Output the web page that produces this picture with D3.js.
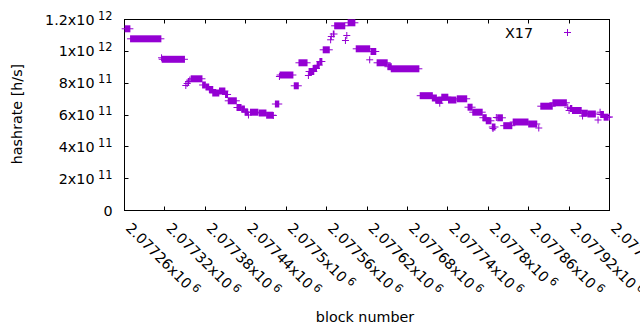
<!DOCTYPE html>
<html>
<head>
<meta charset="utf-8">
<script src="https://cdn.jsdelivr.net/npm/d3@7"></script>
<style>
  body { margin: 0; background: #fff; }
  svg { display: block; }
  text { font-family: "DejaVu Sans", sans-serif; fill: #000; }
</style>
</head>
<body>
<svg id="chart" width="640" height="330"></svg>
<script>
// runs of consecutive blocks that share one hashrate value (X17 series)
const runStart = [2077261, 2077269, 2077315, 2077316, 2077351, 2077353, 2077355, 2077357, 2077359, 2077376,
  2077381, 2077386, 2077391, 2077401, 2077410, 2077414, 2077427, 2077434, 2077439, 2077444,
  2077447, 2077460, 2077471, 2077481, 2077484, 2077490, 2077491, 2077512, 2077519, 2077533,
  2077534, 2077540, 2077546, 2077550, 2077555, 2077566, 2077567, 2077570, 2077572, 2077588,
  2077590, 2077592, 2077604, 2077624, 2077626, 2077635, 2077651, 2077656, 2077699, 2077717,
  2077722, 2077728, 2077731, 2077741, 2077754, 2077770, 2077777, 2077792, 2077797, 2077807,
  2077806, 2077812, 2077814, 2077823, 2077837, 2077860, 2077875, 2077878, 2077896, 2077918,
  2077920, 2077922, 2077925, 2077939, 2077940, 2077948, 2077963, 2077966, 2077967, 2077972,
  2077980];
const runEnd = [2077268, 2077314, 2077315, 2077349, 2077351, 2077353, 2077355, 2077357, 2077375, 2077380,
  2077385, 2077391, 2077400, 2077409, 2077413, 2077426, 2077433, 2077438, 2077443, 2077444,
  2077458, 2077470, 2077480, 2077481, 2077489, 2077490, 2077510, 2077518, 2077531, 2077533,
  2077541, 2077545, 2077549, 2077553, 2077564, 2077566, 2077567, 2077571, 2077587, 2077588,
  2077590, 2077602, 2077624, 2077624, 2077633, 2077650, 2077656, 2077697, 2077717, 2077723,
  2077731, 2077728, 2077740, 2077752, 2077768, 2077776, 2077791, 2077797, 2077804, 2077807,
  2077810, 2077812, 2077821, 2077835, 2077859, 2077872, 2077875, 2077895, 2077916, 2077918,
  2077920, 2077924, 2077938, 2077947, 2077940, 2077959, 2077963, 2077966, 2077971, 2077978,
  2077980];
const hashrate = [1141.6e9, 1078.7e9, 959.4e9, 950.0e9, 785.3e9, 797.9e9, 810.5e9, 819.9e9, 827.4e9, 788.5e9,
  775.9e9, 760.2e9, 738.2e9, 750.8e9, 728.8e9, 689.2e9, 647.1e9, 637.7e9, 617.6e9, 600.0e9,
  617.6e9, 612.6e9, 598.7e9, 596.9e9, 669.1e9, 841.9e9, 851.3e9, 783.5e9, 928.0e9, 848.2e9,
  873.3e9, 892.1e9, 912.9e9, 936.1e9, 1009.6e9, 1072.5e9, 1093.2e9, 1108.9e9, 1160.4e9, 1068.1e9,
  1099.5e9, 1179.3e9, 1015.9e9, 946.8e9, 999.0e9, 928.0e9, 903.5e9, 890.3e9, 721.3e9, 706.8e9,
  693.0e9, 674.1e9, 711.8e9, 694.2e9, 701.8e9, 649.0e9, 617.6e9, 583.0e9, 563.6e9, 515.2e9,
  524.6e9, 584.3e9, 582.4e9, 532.8e9, 556.0e9, 543.5e9, 518.3e9, 655.3e9, 676.7e9, 649.0e9,
  628.3e9, 640.8e9, 628.3e9, 611.3e9, 593.7e9, 606.3e9, 568.6e9, 617.6e9, 603.1e9, 586.2e9,
  587.4e9];

const xTicks = [2077260, 2077320, 2077380, 2077440, 2077500, 2077560, 2077620,
  2077680, 2077740, 2077800, 2077860, 2077920, 2077980];
const xTickMant = ["2.07726", "2.07732", "2.07738", "2.07744", "2.0775", "2.07756", "2.07762",
  "2.07768", "2.07774", "2.0778", "2.07786", "2.07792", "2.07798"];
const xTickExp = ["6", "6", "6", "6", "6", "6", "6", "6", "6", "6", "6", "6", "6"];
const yTicks = [0, 2e11, 4e11, 6e11, 8e11, 1e12, 1.2e12];
const yTickMant = ["0", "2x10", "4x10", "6x10", "8x10", "1x10", "1.2x10"];
const yTickExp = ["", "11", "11", "11", "11", "12", "12"];

const color = "#9400d3";
const svg = d3.select("#chart");

const x = d3.scaleLinear().domain([2077260, 2077980]).range([124.5, 609.5]);
const y = d3.scaleLinear().domain([0, 1.2e12]).range([210.5, 19.5]);

const fontSize = 14.3, supSize = 11.4;

// border
svg.append("rect")
  .attr("x", x.range()[0]).attr("y", y.range()[1])
  .attr("width", x.range()[1] - x.range()[0])
  .attr("height", y.range()[0] - y.range()[1])
  .attr("fill", "none").attr("stroke", "#000").attr("stroke-width", 1);

// ticks (inward, mirrored)
const tl = 4;
xTicks.forEach(t => {
  const px = Math.round(x(t) - 0.5) + 0.5;
  svg.append("line").attr("x1", px).attr("x2", px)
    .attr("y1", y.range()[0]).attr("y2", y.range()[0] - tl).attr("stroke", "#000");
  svg.append("line").attr("x1", px).attr("x2", px)
    .attr("y1", y.range()[1]).attr("y2", y.range()[1] + tl).attr("stroke", "#000");
});
yTicks.forEach(t => {
  const py = Math.round(y(t) - 0.5) + 0.5;
  svg.append("line").attr("y1", py).attr("y2", py)
    .attr("x1", x.range()[0]).attr("x2", x.range()[0] + tl).attr("stroke", "#000");
  svg.append("line").attr("y1", py).attr("y2", py)
    .attr("x1", x.range()[1]).attr("x2", x.range()[1] - tl).attr("stroke", "#000");
});

// y tick labels
yTicks.forEach((t, i) => {
  const txt = svg.append("text")
    .attr("x", 112.5).attr("y", y(t) + 5)
    .attr("text-anchor", "end")
    .attr("font-size", fontSize)
    .text(yTickMant[i]);
  if (yTickExp[i]) {
    txt.append("tspan").attr("dx", 3.5).attr("dy", -5)
      .attr("font-size", supSize).text(yTickExp[i]);
  }
});

// x tick labels, rotated
xTicks.forEach((t, i) => {
  const g = svg.append("g")
    .attr("transform", `translate(${x(t) + 0.5},${229}) rotate(45)`);
  const txt = g.append("text")
    .attr("font-size", fontSize)
    .text(xTickMant[i] + "x10");
  txt.append("tspan").attr("dx", 3).attr("dy", -5)
    .attr("font-size", supSize).text(xTickExp[i]);
});

// axis titles
svg.append("text")
  .attr("transform", "translate(22,114) rotate(-90)")
  .attr("text-anchor", "middle")
  .attr("font-size", fontSize)
  .text("hashrate [h/s]");
svg.append("text")
  .attr("x", 365).attr("y", 321.5)
  .attr("text-anchor", "middle")
  .attr("font-size", fontSize)
  .text("block number");

// data: every run of "+" points drawn as the union of its markers
const h = 3.5;
const runs = svg.append("g").selectAll("g")
  .data(runStart.map((s, i) => ({ s, e: runEnd[i], v: hashrate[i] })))
  .join("g");
runs.append("rect")
  .attr("x", d => x(d.s) - 0.5)
  .attr("width", d => x(d.e) - x(d.s) + 1)
  .attr("y", d => y(d.v) - h)
  .attr("height", 2 * h)
  .attr("fill", color);
runs.append("line")
  .attr("x1", d => x(d.s) - h).attr("x2", d => x(d.e) + h)
  .attr("y1", d => y(d.v)).attr("y2", d => y(d.v))
  .attr("stroke", color).attr("stroke-width", 1);

// legend
svg.append("text")
  .attr("x", 533).attr("y", 37.5)
  .attr("text-anchor", "end")
  .attr("font-size", fontSize)
  .text("X17");
const lx = 567.5, ly = 32.5;
svg.append("path")
  .attr("d", `M${lx - h},${ly}H${lx + h}M${lx},${ly - h}V${ly + h}`)
  .attr("stroke", color).attr("stroke-width", 1).attr("fill", "none");
</script>
</body>
</html>
